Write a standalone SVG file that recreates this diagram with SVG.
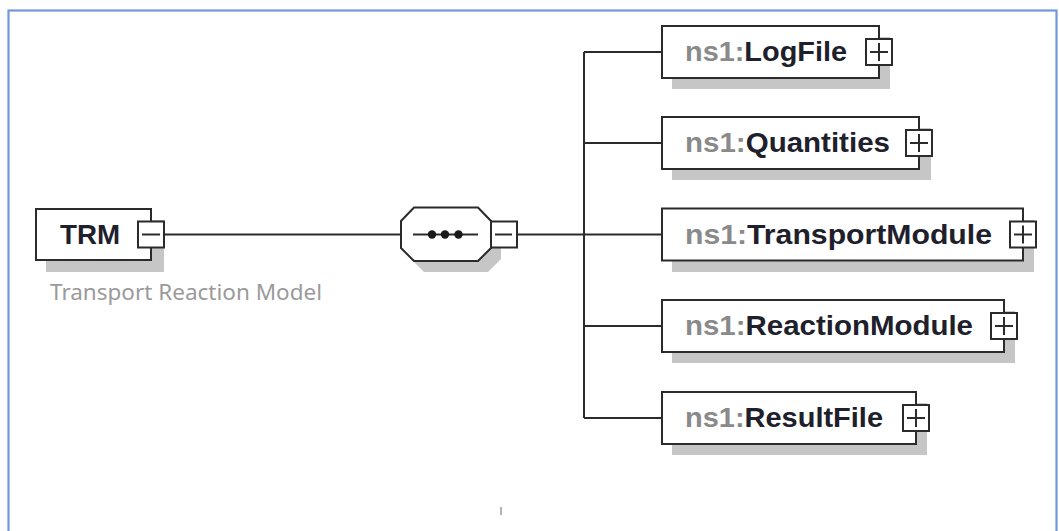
<svg xmlns="http://www.w3.org/2000/svg" width="1059" height="531" viewBox="0 0 1059 531">
  <style>
    .frame { fill: #ffffff; stroke: #7396dc; stroke-width: 2.2; }
    .shadow { fill: #c6c6c6; stroke: none; }
    .box { fill: #ffffff; stroke: #2b2b2b; stroke-width: 2; }
    .btn { fill: #ffffff; stroke: #2b2b2b; stroke-width: 2; }
    .glyph { stroke: #2b2b2b; stroke-width: 2; fill: none; }
    .wire { stroke: #2b2b2b; stroke-width: 2; fill: none; }
    .label { font-family: "Liberation Sans", Arial, sans-serif; font-size: 28px; font-weight: bold; fill: #20202c; }
    .ns { fill: #8a8a8a; }
    .note { font-family: "Noto Sans", "Open Sans", sans-serif; font-size: 22px; fill: #9a9a9a; }
  </style>
  <defs>
    <g id="plus">
      <rect class="btn" x="-13" y="-13" width="26" height="26"/>
      <path class="glyph" d="M-9 0 H9 M0 -9 V9"/>
    </g>
    <g id="minus">
      <rect class="btn" x="-13" y="-13" width="26" height="26"/>
      <path class="glyph" d="M-9 0 H9"/>
    </g>
  </defs>

  <!-- outer frame -->
  <rect class="frame" x="8.5" y="10.5" width="1048" height="540"/>

  <!-- connectors -->
  <g id="connectors">
    <path class="wire" d="M164 234.5 H401"/>
    <path class="wire" d="M517 234.5 H584"/>
    <path class="wire" d="M584 52 V418"/>
    <path class="wire" d="M584 52 H662"/>
    <path class="wire" d="M584 143 H662"/>
    <path class="wire" d="M584 234.5 H662"/>
    <path class="wire" d="M584 326 H662"/>
    <path class="wire" d="M584 418 H662"/>
  </g>

  <!-- root element -->
  <g id="node-trm">
    <rect class="shadow" x="46" y="220" width="118" height="52"/>
    <rect class="box" x="36" y="209" width="115" height="51"/>
    <text class="label" x="60" y="244" font-size="27" textLength="60" lengthAdjust="spacingAndGlyphs">TRM</text>
    <use href="#minus" x="151" y="234.5"/>
    <text class="note" x="50" y="300" textLength="272" lengthAdjust="spacingAndGlyphs">Transport Reaction Model</text>
  </g>

  <!-- sequence compositor -->
  <g id="node-sequence">
    <polygon class="shadow" points="411,232 424,218 488,218 501,232 501,259 488,272 424,272 411,259"/>
    <polygon class="box" points="401,221 414,207.5 478,207.5 491,221 491,248 478,261 414,261 401,248"/>
    <path class="wire" d="M413 234.5 H478" stroke-width="2.4"/>
    <circle cx="432" cy="234.5" r="4.2" fill="#1a1a1a"/>
    <circle cx="445" cy="234.5" r="4.2" fill="#1a1a1a"/>
    <circle cx="458.5" cy="234.5" r="4.2" fill="#1a1a1a"/>
    <rect class="btn" x="491" y="221.5" width="26" height="26"/>
    <path class="glyph" d="M495 234.5 H512"/>
  </g>

  <!-- child elements -->
  <g id="node-logfile">
    <rect class="shadow" x="672" y="37" width="218" height="52"/>
    <rect class="box" x="662" y="26" width="217" height="52"/>
    <text class="label" x="685" y="61" textLength="162" lengthAdjust="spacingAndGlyphs"><tspan class="ns">ns1:</tspan>LogFile</text>
    <use href="#plus" x="879" y="52"/>
  </g>

  <g id="node-quantities">
    <rect class="shadow" x="672" y="128" width="259" height="52"/>
    <rect class="box" x="662" y="117" width="257" height="52"/>
    <text class="label" x="685" y="152" textLength="205" lengthAdjust="spacingAndGlyphs"><tspan class="ns">ns1:</tspan>Quantities</text>
    <use href="#plus" x="919" y="143"/>
  </g>

  <g id="node-transportmodule">
    <rect class="shadow" x="672" y="220" width="362" height="52"/>
    <rect class="box" x="662" y="208.5" width="361" height="52"/>
    <text class="label" x="685" y="244" textLength="307" lengthAdjust="spacingAndGlyphs"><tspan class="ns">ns1:</tspan>TransportModule</text>
    <use href="#plus" x="1023" y="234.5"/>
  </g>

  <g id="node-reactionmodule">
    <rect class="shadow" x="672" y="311" width="343" height="52"/>
    <rect class="box" x="662" y="300" width="342" height="52"/>
    <text class="label" x="685" y="335" textLength="288" lengthAdjust="spacingAndGlyphs"><tspan class="ns">ns1:</tspan>ReactionModule</text>
    <use href="#plus" x="1004" y="326"/>
  </g>

  <g id="node-resultfile">
    <rect class="shadow" x="672" y="403" width="255" height="52"/>
    <rect class="box" x="662" y="392" width="254" height="52"/>
    <text class="label" x="685" y="427" textLength="198" lengthAdjust="spacingAndGlyphs"><tspan class="ns">ns1:</tspan>ResultFile</text>
    <use href="#plus" x="916" y="418"/>
  </g>

  <!-- small stray mark near the lower edge -->
  <path d="M501 507 V515" stroke="#9a9a9a" stroke-width="1.5"/>
</svg>
